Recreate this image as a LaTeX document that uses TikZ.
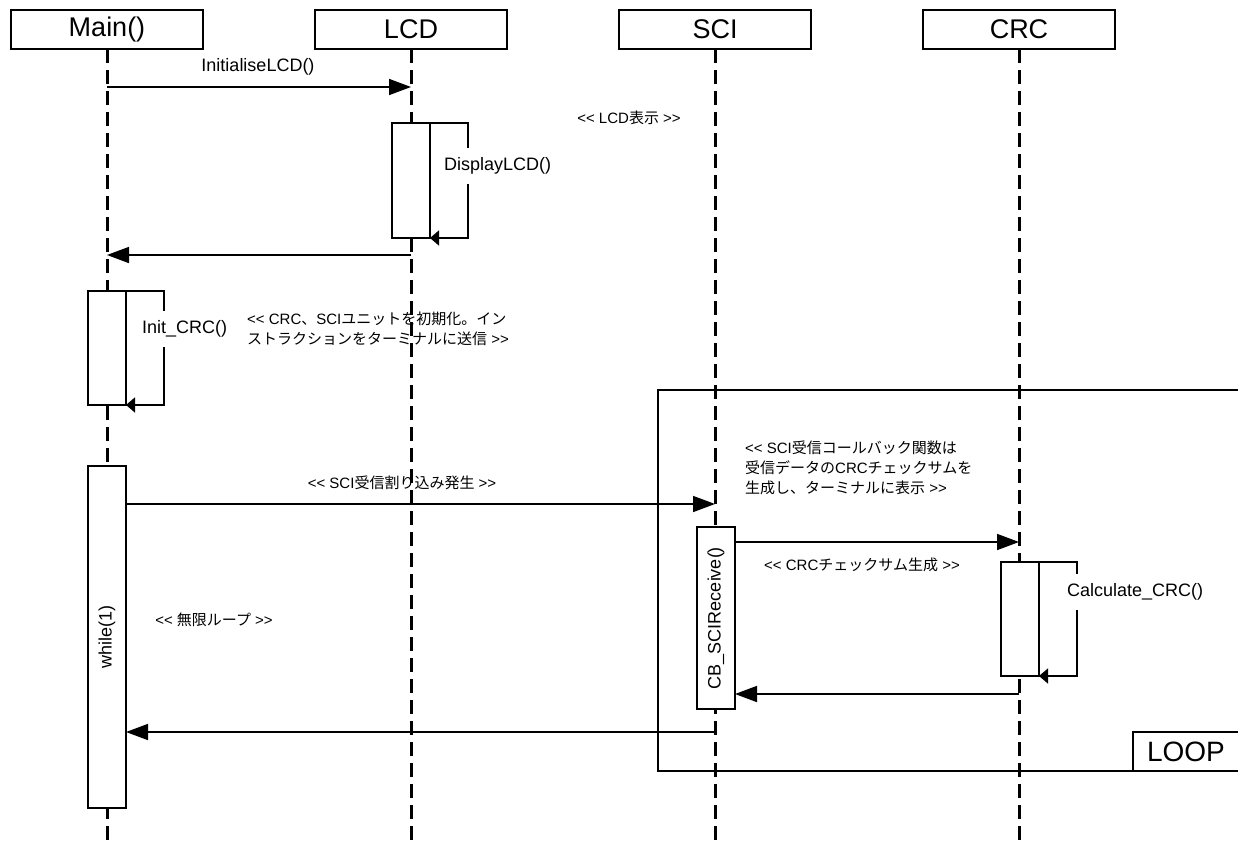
\documentclass[tikz,border=0pt]{standalone}
\usepackage{fontspec}
\setmainfont{Liberation Sans}
\newfontfamily\cjk{Noto Sans CJK JP}
\newcommand\jp[1]{{\cjk #1}}
\newcommand\lguil{<{}<}
\newcommand\rguil{>{}>}
\usetikzlibrary{arrows.meta}
\begin{document}
\begin{tikzpicture}[x=1bp,y=-1bp,
  head/.style={draw,line width=1.6bp,minimum width=192bp,minimum height=39bp,inner sep=0pt,outer sep=0pt,font=\fontsize{27bp}{30bp}\selectfont},
  life/.style={line width=3bp,dash pattern=on 14bp off 7bp},
  act/.style={draw,line width=1.6bp,fill=white,minimum width=38bp,inner sep=0pt,outer sep=0pt,anchor=north west},
  msg/.style={line width=1.6bp,-{Triangle[length=22bp,width=16bp]}},
  selfmsg/.style={line width=1.6bp,-{Triangle[length=9bp,width=15bp]}},
  lbl/.style={font=\fontsize{18bp}{21bp}\selectfont,inner sep=0pt},
  gaplbl/.style={lbl,anchor=west,fill=white,inner xsep=0pt,inner ysep=10bp},
  note/.style={font=\fontsize{15bp}{20bp}\selectfont,align=left,inner sep=0pt},
  frame/.style={line width=1.6bp}
]
\useasboundingbox (0,0) rectangle (1238,845);
\clip (0,0) rectangle (1238,845);

% headers
\node[head] (main) at (107,29.5) {Main()};
\node[head] (lcd) at (411,29.5) {LCD};
\node[head] (sci) at (715,29.5) {SCI};
\node[head] (crc) at (1019,29.5) {CRC};

% lifelines
\coordinate (mainEnd) at (107,850);
\coordinate (lcdEnd) at (411,850);
\coordinate (sciEnd) at (715,850);
\coordinate (crcEnd) at (1019,850);
\draw[life] (main.south) -- (mainEnd);
\draw[life] (lcd.south) -- (lcdEnd);
\draw[life] (sci.south) -- (sciEnd);
\draw[life] (crc.south) -- (crcEnd);

% loop frame
\coordinate (frTL) at (658,390);
\coordinate (frBR) at (1260,771);
\draw[frame] (frTL) rectangle (frBR);
\coordinate (tagTL) at (1133,732);
\draw[frame,fill=white] (tagTL) rectangle (frBR);
\node[font=\fontsize{28bp}{32bp}\selectfont,inner sep=0pt] (looplbl) at (1186,752) {LOOP};

% InitialiseLCD
\coordinate (m1s) at (107,87);
\coordinate (m1e) at (411,87);
\draw[msg] (m1s) -- (m1e);
\node[lbl] (m1l) at (258,67) {InitialiseLCD()};

% LCD activation
\node[act,minimum height=115bp] (lcdact) at (392,123) {};
\draw[selfmsg] (lcdact.north east) -- ++(38,0) -- ++(0,115) -- (lcdact.south east);
\node[gaplbl] (dlcd) at (444,166) {DisplayLCD()};
\node[note] (n1) at (629,118) {\lguil{} LCD\jp{表示} \rguil};

% return to main
\coordinate (m2s) at (411,255);
\coordinate (m2e) at (107,255);
\draw[msg] (m2s) -- (m2e);

% Init_CRC activation
\node[act,minimum height=114bp] (initact) at (88,291) {};
\draw[selfmsg] (initact.north east) -- ++(38,0) -- ++(0,114) -- (initact.south east);
\node[gaplbl] (icrc) at (142,329) {Init\_CRC()};
\node[note,anchor=west] (n2) at (247,329) {\lguil{} CRC\jp{、}SCI\jp{ユニットを初期化。イン}\\\jp{ストラクションをターミナルに送信} \rguil};

% while(1)
\node[act,minimum height=342bp] (whileact) at (88,466) {};
\node[lbl,rotate=90] (wl) at (whileact.center) {while(1)};
\node[note] (n3) at (214,620) {\lguil{} \jp{無限ループ} \rguil};

% SCI interrupt
\coordinate (m3s) at (126,504);
\coordinate (m3e) at (715,504);
\draw[msg] (m3s) -- (m3e);
\node[note] (m3l) at (402,483) {\lguil{} SCI\jp{受信割り込み発生} \rguil};

\node[note,anchor=west] (n4) at (745,468) {\lguil{} SCI\jp{受信コールバック関数は}\\\jp{受信データの}CRC\jp{チェックサムを}\\\jp{生成し、ターミナルに表示} \rguil};

% CB_SCIReceive
\node[act,minimum height=182bp] (cbact) at (697,527) {};
\node[lbl,rotate=90] (cbl) at (cbact.center) {CB\_SCIReceive()};

\coordinate (m4s) at (735,542);
\coordinate (m4e) at (1019,542);
\draw[msg] (m4s) -- (m4e);
\node[note] (m4l) at (862,565) {\lguil{} CRC\jp{チェックサム生成} \rguil};

% CRC activation
\node[act,minimum height=114bp] (crcact) at (1001,562) {};
\draw[selfmsg] (crcact.north east) -- ++(38,0) -- ++(0,114) -- (crcact.south east);
\node[gaplbl] (ccrc) at (1067,592) {Calculate\_CRC()};

% returns
\coordinate (m5s) at (1019,694);
\coordinate (m5e) at (735,694);
\draw[msg] (m5s) -- (m5e);
\coordinate (m6s) at (715,732);
\coordinate (m6e) at (126,732);
\draw[msg] (m6s) -- (m6e);
\end{tikzpicture}
\end{document}
